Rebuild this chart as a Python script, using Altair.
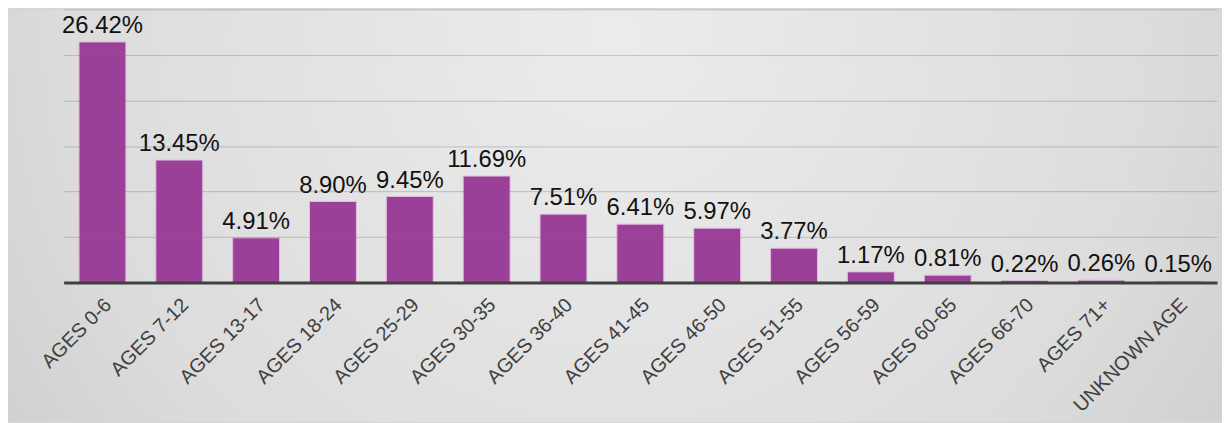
import altair as alt
import pandas as pd

categories = ["AGES 0-6", "AGES 7-12", "AGES 13-17", "AGES 18-24", "AGES 25-29",
              "AGES 30-35", "AGES 36-40", "AGES 41-45", "AGES 46-50", "AGES 51-55",
              "AGES 56-59", "AGES 60-65", "AGES 66-70", "AGES 71+", "UNKNOWN AGE"]
values = [26.42, 13.45, 4.91, 8.90, 9.45, 11.69, 7.51, 6.41, 5.97, 3.77,
          1.17, 0.81, 0.22, 0.26, 0.15]

df = pd.DataFrame({"cat": categories, "value": values})

W, H = 1161, 275
PL, PR, PT, PB = 56, 5, 0, 140

bg = alt.Chart(alt.Data(values=[{"a": 1}])).mark_rect(
    fill={"gradient": "radial", "x1": 0.5, "y1": 0.35, "x2": 0.5, "y2": 0.35,
          "r1": 0, "r2": 0.75,
          "stops": [{"offset": 0, "color": "#ececec"},
                    {"offset": 0.6, "color": "#dcdcdc"},
                    {"offset": 1, "color": "#c4c4c4"}]}
).encode(
    x=alt.value(-PL), x2=alt.value(W + PR), y=alt.value(-PT), y2=alt.value(H + PB)
)

xenc = alt.X("cat:N", sort=categories, title=None,
             scale=alt.Scale(paddingInner=0.39, paddingOuter=0.2),
             axis=alt.Axis(labelAngle=-45, labelAlign="right", labelBaseline="middle",
                           labelPadding=19, labelOffset=6, labelFontSize=20,
                           labelFont="Liberation Sans",
                           labelColor="#404040", ticks=False, domainColor="#404040",
                           domainWidth=3, zindex=2, labelLimit=300))
yenc = alt.Y("value:Q", title=None,
             scale=alt.Scale(domain=[0, 30], nice=False),
             axis=alt.Axis(values=[5, 10, 15, 20, 25, 30], labels=False, ticks=False,
                           domain=False, gridColor="#707070", gridOpacity=0.35,
                           gridWidth=1, zindex=1))

bars = alt.Chart(df).mark_bar(color="#9b4098", stroke="#e2b8df", strokeWidth=1).encode(
    x=xenc, y=yenc
)

labels = alt.Chart(df).transform_calculate(
    lab="format(datum.value, '.2f') + '%'"
).mark_text(baseline="bottom", dy=-4, fontSize=24, font="Liberation Sans",
            color="#111111").encode(
    x=alt.X("cat:N", sort=categories),
    y="value:Q",
    text="lab:N"
)

chart = alt.layer(bg, bars, labels).properties(
    width=W, height=H,
    autosize=alt.AutoSizeParams(type="none"),
    padding={"left": PL, "right": PR, "top": PT, "bottom": PB},
    background="#d6d6d6"
).configure_view(strokeWidth=0)

chart.save("out.html", embed_options={"renderer": "svg", "actions": False})
